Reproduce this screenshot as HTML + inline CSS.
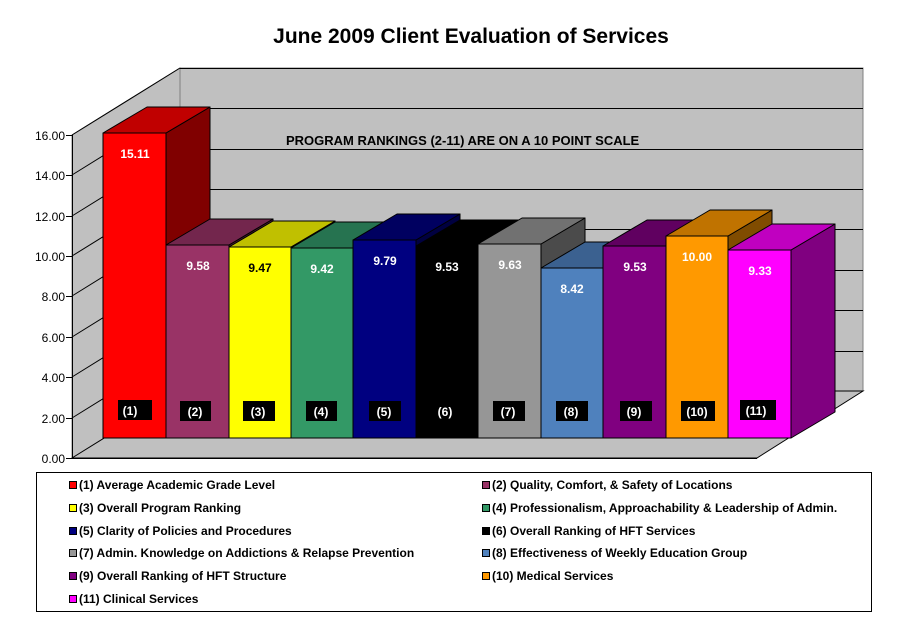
<!DOCTYPE html>
<html><head><meta charset="utf-8"><style>
html,body{margin:0;padding:0;background:#fff;}
svg{display:block;font-family:"Liberation Sans",Arial,sans-serif;}
</style></head><body>
<svg width="908" height="618" viewBox="0 0 908 618" xmlns="http://www.w3.org/2000/svg">
<rect width="908" height="618" fill="#fff"/>
<text x="471" y="43" font-size="21" font-weight="bold" text-anchor="middle">June 2009 Client Evaluation of Services</text>
<polygon points="72,135 180,68 180,391 72,458" fill="#C0C0C0" stroke="#808080" stroke-width="1"/>
<rect x="180" y="68" width="683" height="323" fill="#C0C0C0" stroke="#808080" stroke-width="1"/>
<polygon points="72,458 180,391 863,391 757,458" fill="#C0C0C0" stroke="#000" stroke-width="1"/>
<g stroke="#000" stroke-width="1">
<line x1="180" y1="68.5" x2="863" y2="68.5"/>
<line x1="180" y1="108.5" x2="863" y2="108.5"/>
<line x1="180" y1="149.5" x2="863" y2="149.5"/>
<line x1="180" y1="189.5" x2="863" y2="189.5"/>
<line x1="180" y1="229.5" x2="863" y2="229.5"/>
<line x1="180" y1="270.5" x2="863" y2="270.5"/>
<line x1="180" y1="310.5" x2="863" y2="310.5"/>
<line x1="180" y1="351.5" x2="863" y2="351.5"/>
<line x1="72" y1="135" x2="180" y2="68"/>
<line x1="72" y1="175" x2="180" y2="108"/>
<line x1="72" y1="216" x2="180" y2="149"/>
<line x1="72" y1="256" x2="180" y2="189"/>
<line x1="72" y1="296" x2="180" y2="229"/>
<line x1="72" y1="337" x2="180" y2="270"/>
<line x1="72" y1="377" x2="180" y2="310"/>
<line x1="72" y1="418" x2="180" y2="351"/>
<line x1="72.5" y1="135" x2="72.5" y2="458"/>
<line x1="72" y1="458.5" x2="757" y2="458.5"/>
<line x1="66" y1="135.5" x2="72" y2="135.5"/>
<line x1="66" y1="175.5" x2="72" y2="175.5"/>
<line x1="66" y1="216.5" x2="72" y2="216.5"/>
<line x1="66" y1="256.5" x2="72" y2="256.5"/>
<line x1="66" y1="296.5" x2="72" y2="296.5"/>
<line x1="66" y1="337.5" x2="72" y2="337.5"/>
<line x1="66" y1="377.5" x2="72" y2="377.5"/>
<line x1="66" y1="418.5" x2="72" y2="418.5"/>
<line x1="66" y1="458.5" x2="72" y2="458.5"/>
</g>
<g font-size="12" text-anchor="end">
<text x="65" y="140">16.00</text><text x="65" y="180">14.00</text><text x="65" y="221">12.00</text>
<text x="65" y="261">10.00</text><text x="65" y="301">8.00</text><text x="65" y="342">6.00</text>
<text x="65" y="382">4.00</text><text x="65" y="423">2.00</text><text x="65" y="463">0.00</text>
</g>
<text x="286" y="145" font-size="13" font-weight="bold">PROGRAM RANKINGS (2-11) ARE ON A 10 POINT SCALE</text>
<g stroke="#000" stroke-width="1" stroke-linejoin="round">
<polygon points="166,133 210,107 210,412 166,438" fill="#800000"/>
<polygon points="103,133 147,107 210,107 166,133" fill="#C00000"/>
<rect x="103" y="133" width="63" height="305" fill="#FF0000"/>
<polygon points="229,245 273,219 273,412 229,438" fill="#4D1A33"/>
<polygon points="166,245 210,219 273,219 229,245" fill="#73264D"/>
<rect x="166" y="245" width="63" height="193" fill="#993366"/>
<polygon points="291,247 335,221 335,412 291,438" fill="#808000"/>
<polygon points="229,247 273,221 335,221 291,247" fill="#C0C000"/>
<rect x="229" y="247" width="62" height="191" fill="#FFFF00"/>
<polygon points="353,248 397,222 397,412 353,438" fill="#1A4D33"/>
<polygon points="291,248 335,222 397,222 353,248" fill="#267350"/>
<rect x="291" y="248" width="62" height="190" fill="#339966"/>
<polygon points="416,240 460,214 460,412 416,438" fill="#000040"/>
<polygon points="353,240 397,214 460,214 416,240" fill="#000060"/>
<rect x="353" y="240" width="63" height="198" fill="#000080"/>
<polygon points="478,246 522,220 522,412 478,438" fill="#000"/>
<polygon points="416,246 460,220 522,220 478,246" fill="#000"/>
<rect x="416" y="246" width="62" height="192" fill="#000"/>
<polygon points="541,244 585,218 585,412 541,438" fill="#4B4B4B"/>
<polygon points="478,244 522,218 585,218 541,244" fill="#717171"/>
<rect x="478" y="244" width="63" height="194" fill="#969696"/>
<polygon points="603,268 647,242 647,412 603,438" fill="#284060"/>
<polygon points="541,268 585,242 647,242 603,268" fill="#3B6190"/>
<rect x="541" y="268" width="62" height="170" fill="#4F81BD"/>
<polygon points="666,246 710,220 710,412 666,438" fill="#400040"/>
<polygon points="603,246 647,220 710,220 666,246" fill="#600060"/>
<rect x="603" y="246" width="63" height="192" fill="#800080"/>
<polygon points="728,236 772,210 772,412 728,438" fill="#804C00"/>
<polygon points="666,236 710,210 772,210 728,236" fill="#C07300"/>
<rect x="666" y="236" width="62" height="202" fill="#FF9900"/>
<polygon points="791,250 835,224 835,412 791,438" fill="#800080"/>
<polygon points="728,250 772,224 835,224 791,250" fill="#C000C0"/>
<rect x="728" y="250" width="63" height="188" fill="#FF00FF"/>
</g>
<g font-size="12" font-weight="bold" text-anchor="middle" fill="#fff">
<text x="135" y="158">15.11</text>
<text x="198" y="270">9.58</text>
<text x="260" y="272" fill="#000">9.47</text>
<text x="322" y="273">9.42</text>
<text x="385" y="265">9.79</text>
<text x="447" y="271">9.53</text>
<text x="510" y="269">9.63</text>
<text x="572" y="293">8.42</text>
<text x="635" y="271">9.53</text>
<text x="697" y="261">10.00</text>
<text x="760" y="275">9.33</text>
</g>
<g fill="#000">
<rect x="118" y="400" width="34" height="20"/>
<rect x="180" y="401" width="31" height="20"/>
<rect x="243" y="401" width="32" height="20"/>
<rect x="306" y="401" width="31" height="20"/>
<rect x="369" y="401" width="32" height="20"/>
<rect x="431" y="401" width="32" height="20"/>
<rect x="493" y="401" width="32" height="20"/>
<rect x="556" y="401" width="32" height="20"/>
<rect x="620" y="401" width="32" height="20"/>
<rect x="681" y="401" width="34" height="20"/>
<rect x="740" y="400" width="36" height="20"/>
</g>
<g font-size="12" font-weight="bold" text-anchor="middle" fill="#fff">
<text x="130" y="415">(1)</text>
<text x="195" y="416">(2)</text>
<text x="258" y="416">(3)</text>
<text x="321" y="416">(4)</text>
<text x="384" y="416">(5)</text>
<text x="445" y="416">(6)</text>
<text x="508" y="416">(7)</text>
<text x="571" y="416">(8)</text>
<text x="634" y="416">(9)</text>
<text x="697" y="416">(10)</text>
<text x="756" y="415">(11)</text>
</g>
<rect x="36.5" y="472.5" width="835" height="139" fill="#fff" stroke="#000"/>
<g stroke="#000" stroke-width="1">
<rect x="69.5" y="481.5" width="7" height="7" fill="#FF0000"/>
<rect x="69.5" y="504.5" width="7" height="7" fill="#FFFF00"/>
<rect x="69.5" y="527.5" width="7" height="7" fill="#000080"/>
<rect x="69.5" y="549.5" width="7" height="7" fill="#969696"/>
<rect x="69.5" y="572.5" width="7" height="7" fill="#800080"/>
<rect x="69.5" y="595.5" width="7" height="7" fill="#FF00FF"/>
<rect x="482.5" y="481.5" width="7" height="7" fill="#993366"/>
<rect x="482.5" y="504.5" width="7" height="7" fill="#339966"/>
<rect x="482.5" y="527.5" width="7" height="7" fill="#000000"/>
<rect x="482.5" y="549.5" width="7" height="7" fill="#4F81BD"/>
<rect x="482.5" y="572.5" width="7" height="7" fill="#FF9900"/>
</g>
<g font-size="12" font-weight="bold">
<text x="79" y="489">(1) Average Academic Grade Level</text>
<text x="79" y="512">(3) Overall Program Ranking</text>
<text x="79" y="535">(5) Clarity of Policies and Procedures</text>
<text x="79" y="557">(7) Admin. Knowledge on Addictions &amp; Relapse Prevention</text>
<text x="79" y="580">(9) Overall Ranking of HFT Structure</text>
<text x="79" y="603">(11) Clinical Services</text>
<text x="492" y="489">(2) Quality, Comfort, &amp; Safety of Locations</text>
<text x="492" y="512">(4) Professionalism, Approachability  &amp; Leadership of Admin.</text>
<text x="492" y="535">(6) Overall Ranking of HFT Services</text>
<text x="492" y="557">(8) Effectiveness of Weekly Education Group</text>
<text x="492" y="580">(10) Medical Services</text>
</g>
</svg>
</body></html>
